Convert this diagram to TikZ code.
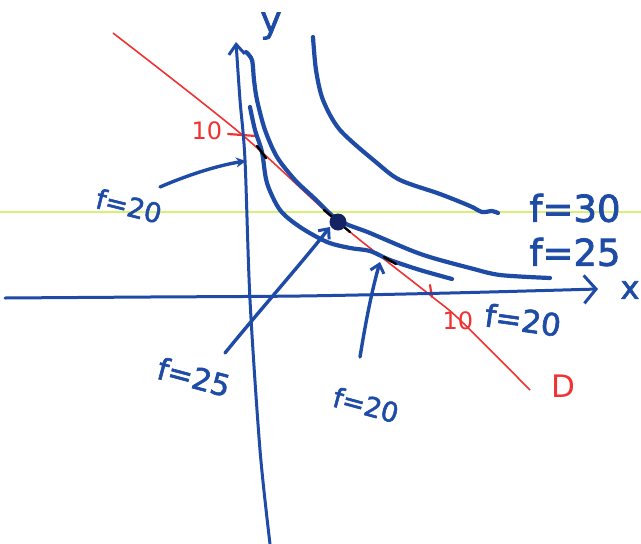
\documentclass[tikz,border=0pt]{standalone}
\usepackage{fontspec}
\setmainfont{DejaVu Sans}[BoldFont={DejaVu Sans},BoldFeatures={FakeBold=2}]
\usetikzlibrary{arrows.meta}
\definecolor{pen}{RGB}{30,75,165}
\definecolor{navy}{RGB}{20,35,100}
\definecolor{redpen}{RGB}{240,50,50}
\definecolor{guide}{RGB}{215,240,120}
\begin{document}
\begin{tikzpicture}[x=1pt,y=-1pt,
  curve/.style={pen,line width=4.2pt,line cap=round,line join=round},
  axisline/.style={pen,line width=3pt,line cap=round,line join=round},
  ptr/.style={pen,line width=3.4pt,line cap=round,-{Straight Barb[length=8pt,width=14pt,line width=3pt]}},
  blobptr/.style={pen,line width=3.4pt,line cap=round,-{Stealth[length=10pt,width=10pt]}},
  lab/.style={text=pen,inner sep=0pt},
  rlab/.style={text=redpen,inner sep=0pt},
  crossmark/.style={black,line width=2.4pt,line cap=round}
]
\useasboundingbox (0,0) rectangle (641,544);
% guide line
\draw[guide,line width=1.2pt] (0,212) -- (641,212);
% red line D
\draw[redpen,line width=1.6pt] plot[smooth] coordinates {(113,33) (240,133) (338,222) (430,295) (460,320) (530,390)};
% red ticks
\draw[redpen,line width=2.2pt,line cap=round] (228,134) -- (256,136);
\draw[redpen,line width=2.2pt,line cap=round] (430,285) -- (432,297);
% axes
\draw[axisline,-{Straight Barb[length=10pt,width=16pt,line width=3pt]}] plot[smooth] coordinates {(270,544) (260,450) (250,300) (245,160) (240,100) (236,42)};
\draw[axisline,-{Straight Barb[length=12pt,width=28pt,line width=3pt]}] plot[smooth] coordinates {(5,298) (150,297) (300,296) (450,293) (598,289)};
% curves
\draw[curve] plot[smooth] coordinates {(313,37) (316,70) (323,100) (340,130) (377,163) (400,180) (440,194) (470,206) (482,212) (492,211) (498,213)};
\draw[curve] plot[smooth] coordinates {(246,52) (252,60) (254,80) (257,100) (265,130) (277,157) (295,180) (313,197) (338,220) (370,233) (410,250) (433,258) (470,268) (500,275) (550,278)};
\draw[curve] plot[smooth] coordinates {(250,107) (255,130) (262,152) (267,183) (280,210) (300,227) (327,242) (350,248) (370,251) (390,260) (420,270) (452,279)};
% intersection marks
\draw[crossmark] (257,146) -- (266,158);
\draw[crossmark] (384,257) -- (396,264);
\draw[crossmark] (324,210) -- (350,232);
\fill[navy] (338,222) circle (8.5pt);
% axis labels
\node[lab,font=\fontsize{36}{36}\selectfont\bfseries] (ylab) at (271,26) {y};
\node[lab,font=\fontsize{32}{32}\selectfont\bfseries] (xlab) at (630,290) {x};
% right labels
\node[lab,font=\fontsize{37}{37}\selectfont\bfseries] (f30) at (575,208) {f=30};
\node[lab,font=\fontsize{37}{37}\selectfont\bfseries] (f25r) at (575,252) {f=25};
\node[lab,font=\fontsize{31}{31}\selectfont\bfseries,rotate=-8] (f20r) at (523,320) {f=20};
% red labels
\node[rlab,font=\fontsize{24}{24}\selectfont] (ten1) at (207,131) {10};
\node[rlab,font=\fontsize{24}{24}\selectfont] (ten2) at (458,321) {10};
\node[rlab,font=\fontsize{31}{31}\selectfont] (dlab) at (563,386) {D};
% pointer labels
\node[lab,font=\fontsize{27}{27}\selectfont\bfseries,rotate=-14] (f20a) at (129,206) {f=20};
\node[lab,font=\fontsize{30}{30}\selectfont\bfseries,rotate=-15] (f25a) at (194,377) {f=25};
\node[lab,font=\fontsize{27}{27}\selectfont\bfseries,rotate=-15] (f20b) at (366,405) {f=20};
% pointers
\coordinate (s1) at (160,187);
\coordinate (t1) at (246,161);
\coordinate (s2) at (225,353);
\coordinate (t2) at (330,227);
\coordinate (s3) at (360,357);
\coordinate (t3) at (380,262);
\draw[blobptr] (s1) .. controls (190,174) and (220,165) .. (t1);
\draw[ptr] (s2) .. controls (260,310) and (300,265) .. (t2);
\draw[ptr] (s3) .. controls (366,320) and (372,290) .. (t3);
\end{tikzpicture}
\end{document}
